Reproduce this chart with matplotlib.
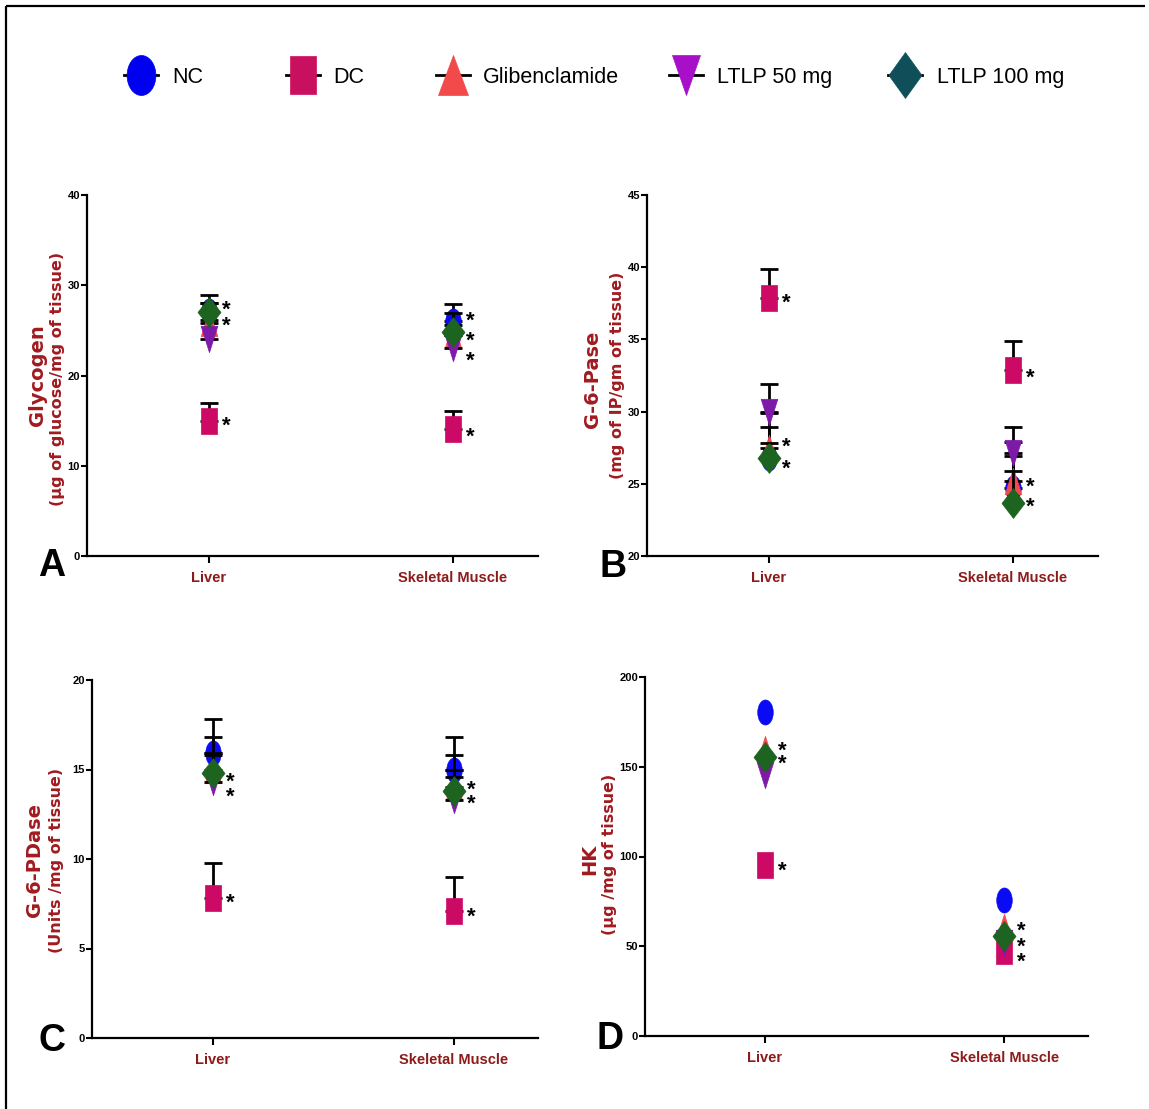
import numpy as np
import matplotlib
matplotlib.use('Agg')
import matplotlib.pyplot as plt
from matplotlib.path import Path
from matplotlib import font_manager

# ---------------- data ----------------
groups = ['NC', 'DC', 'Glibenclamide', 'LTLP 50 mg', 'LTLP 100 mg']
tissues = ['Liver', 'Skeletal Muscle']

glycogen_liver = [27.2, 15.0, 25.8, 24.0, 27.0]
glycogen_liver_sem = [1.7, 1.9, 2.2, 2.1, 1.0]
glycogen_muscle = [26.0, 14.1, 24.5, 23.0, 24.8]
glycogen_muscle_sem = [1.9, 2.0, 2.4, 1.5, 0.8]

g6pase_liver = [26.8, 37.9, 27.5, 30.0, 26.8]
g6pase_liver_sem = [2.1, 2.0, 2.4, 1.9, 1.0]
g6pase_muscle = [24.7, 32.9, 25.2, 27.1, 23.7]
g6pase_muscle_sem = [2.2, 2.0, 2.7, 1.8, 2.2]

g6pdase_liver = [15.9, 7.8, 15.0, 14.3, 14.8]
g6pdase_liver_sem = [1.9, 2.0, 1.8, 1.6, 1.0]
g6pdase_muscle = [15.0, 7.1, 14.0, 13.3, 13.8]
g6pdase_muscle_sem = [1.8, 1.9, 1.8, 1.7, 0.8]

hk_liver = [180.5, 95.5, 160.0, 145.5, 155.5]
hk_muscle = [75.8, 47.5, 60.5, 52.0, 55.7]

# y positions of the significance asterisks (Liver column, Skeletal Muscle column)
glycogen_sig = [[27.7, 25.9, 14.85], [26.5, 24.3, 22.0, 13.6]]
g6pase_sig = [[37.8, 27.8, 26.3], [32.6, 25.05, 23.67]]
g6pdase_sig = [[14.5, 13.7, 7.77], [14.1, 13.3, 7.0]]
hk_sig = [[161.0, 153.8, 94.2], [60.7, 51.8, 43.5]]

# ---------------- style ----------------
W, H = 1149, 1109
names = {f.name for f in font_manager.fontManager.ttflist}
NARROW = 'Liberation Sans Narrow' if 'Liberation Sans Narrow' in names else 'Liberation Sans'
LAB_RED = '#A01B20'
TICK_RED = '#8E1A1A'

plot_colors = ['#0A0AF5', '#CC0A66', '#F24A4A', '#7E1AA8', '#1D6420']
legend_colors = ['#0000F0', '#C8105E', '#F24A4A', '#A80FC8', '#0E4F59']


def ellipse(r):
    c = Path.unit_circle()
    v = c.vertices.copy()
    v[:, 0] *= r
    return Path(v, c.codes)


def poly(pts):
    pts = list(pts) + [pts[0]]
    codes = [Path.MOVETO] + [Path.LINETO] * (len(pts) - 2) + [Path.CLOSEPOLY]
    return Path(pts, codes)


def make_markers(r):
    return [ellipse(r[0]),
            poly([(-r[1], -1), (r[1], -1), (r[1], 1), (-r[1], 1)]),
            poly([(0, 1), (-r[2], -1), (r[2], -1)]),
            poly([(0, -1), (-r[3], 1), (r[3], 1)]),
            poly([(0, 1), (r[4], 0), (0, -1), (-r[4], 0)])]


plot_markers = make_markers([0.62, 0.58, 0.63, 0.63, 0.77])
plot_ms = [18, 19, 19, 19, 21.5]
legend_markers = make_markers([0.72, 0.68, 0.75, 0.70, 0.72])
legend_ms = [28.8, 27.4, 28.8, 28.8, 33]

fig = plt.figure(figsize=(W / 100, H / 100), dpi=100)


def px_axes(left, right, top, bottom):
    return fig.add_axes([left / W, 1 - bottom / H, (right - left) / W, (bottom - top) / H])


def draw_panel(ax, liver, muscle, liver_sem, muscle_sem, ylim, yticks, sig,
               title, unit, title_x, unit_x, title_y=0.5, unit_y=0.5):
    x = np.arange(len(tissues))
    for i, g in enumerate(groups):
        vals = [liver[i], muscle[i]]
        if liver_sem is not None:
            ax.errorbar(x, vals, yerr=[[0, 0], [liver_sem[i], muscle_sem[i]]],
                        fmt='none', ecolor='black', elinewidth=2, capsize=6.5,
                        capthick=2, zorder=3 + 2 * i)
        ax.plot(x, vals, linestyle='none', marker=plot_markers[i], ms=plot_ms[i],
                mfc=plot_colors[i], mec=plot_colors[i], mew=0.5,
                zorder=4 + 2 * i, label=g)
    for xi, ys in enumerate(sig):
        for yv in ys:
            ax.annotate('*', xy=(xi, yv), xytext=(9.5, -7), textcoords='offset points',
                        ha='left', va='baseline', fontsize=16, fontweight='bold',
                        family='Liberation Sans', color='black', zorder=20)
    ax.set_xlim(-0.5, 1.35)
    ax.set_ylim(*ylim)
    ax.set_yticks(yticks)
    ax.set_xticks(x)
    ax.set_xticklabels(tissues)
    for s in ['top', 'right']:
        ax.spines[s].set_visible(False)
    for s in ['left', 'bottom']:
        ax.spines[s].set_linewidth(1.6)
    ax.tick_params(axis='y', direction='out', length=4, width=1.5, pad=1)
    ax.tick_params(axis='x', direction='out', length=5, width=1.5, pad=6)
    for lab in ax.get_yticklabels():
        lab.set_fontfamily(NARROW)
        lab.set_fontweight('bold')
        lab.set_fontsize(8)
    for lab in ax.get_xticklabels():
        lab.set_fontfamily(NARROW)
        lab.set_fontweight('bold')
        lab.set_fontsize(10.5)
        lab.set_color(TICK_RED)
    ax.text(title_x, title_y, title, transform=ax.transAxes, rotation=90,
            ha='center', va='center', fontsize=14, fontweight='bold',
            family='DejaVu Sans', color=LAB_RED)
    ax.text(unit_x, unit_y, unit, transform=ax.transAxes, rotation=90,
            ha='center', va='center', fontsize=11.5, fontweight='bold',
            family='DejaVu Sans', color=LAB_RED)


axA = px_axes(87, 538, 195, 556)
draw_panel(axA, glycogen_liver, glycogen_muscle, glycogen_liver_sem, glycogen_muscle_sem,
           (0, 40), [0, 10, 20, 30, 40], glycogen_sig,
           'Glycogen', '(\u00b5g of glucose/mg of tissue)', -0.109, -0.065, 0.50, 0.49)

axB = px_axes(647, 1098, 195, 556)
draw_panel(axB, g6pase_liver, g6pase_muscle, g6pase_liver_sem, g6pase_muscle_sem,
           (20, 45), [20, 25, 30, 35, 40, 45], g6pase_sig,
           'G-6-Pase', '(mg of IP/gm of tissue)', -0.12, -0.065, 0.49, 0.50)

axC = px_axes(92, 538, 680, 1038)
draw_panel(axC, g6pdase_liver, g6pdase_muscle, g6pdase_liver_sem, g6pdase_muscle_sem,
           (0, 20), [0, 5, 10, 15, 20], g6pdase_sig,
           'G-6-PDase', '(Units /mg of tissue)', -0.128, -0.08, 0.497, 0.495)

axD = px_axes(645, 1088, 677, 1036)
draw_panel(axD, hk_liver, hk_muscle, None, None,
           (0, 200), [0, 50, 100, 150, 200], hk_sig,
           'HK', '(\u00b5g /mg of tissue)', -0.125, -0.08, 0.493, 0.507)

# ---------------- overlay: frame, legend, panel letters ----------------
ov = fig.add_axes([0, 0, 1, 1], zorder=-5)
ov.set_xlim(0, W)
ov.set_ylim(H, 0)
ov.axis('off')

ov.plot([6, 6], [6, H], color='black', lw=1.6, solid_capstyle='butt')
ov.plot([6, W - 4], [6, 6], color='black', lw=1.6, solid_capstyle='butt')

leg_marker_x = [141, 303, 453, 686, 905]
leg_text_x = [172, 333, 483, 717, 937]
leg_y = 75
for i, g in enumerate(groups):
    mx = leg_marker_x[i]
    ov.plot([mx - 17, mx + 17], [leg_y, leg_y], color='black', lw=2, zorder=1)
    ov.plot([mx], [leg_y], linestyle='none', marker=legend_markers[i], ms=legend_ms[i],
            mfc=legend_colors[i], mec=legend_colors[i], mew=0.5, zorder=2)
    ov.text(leg_text_x[i], leg_y + 8, g, ha='left', va='baseline', fontsize=15.5,
            family=NARROW, color='black')

for letter, (lx, ly) in zip('ABCD', [(52, 576), (613, 577), (52, 1051), (610, 1049)]):
    ov.text(lx, ly, letter, ha='center', va='baseline', fontsize=27,
            fontweight='bold', family='Liberation Sans', color='black')

fig.savefig('out.png', dpi=100, facecolor='white')
